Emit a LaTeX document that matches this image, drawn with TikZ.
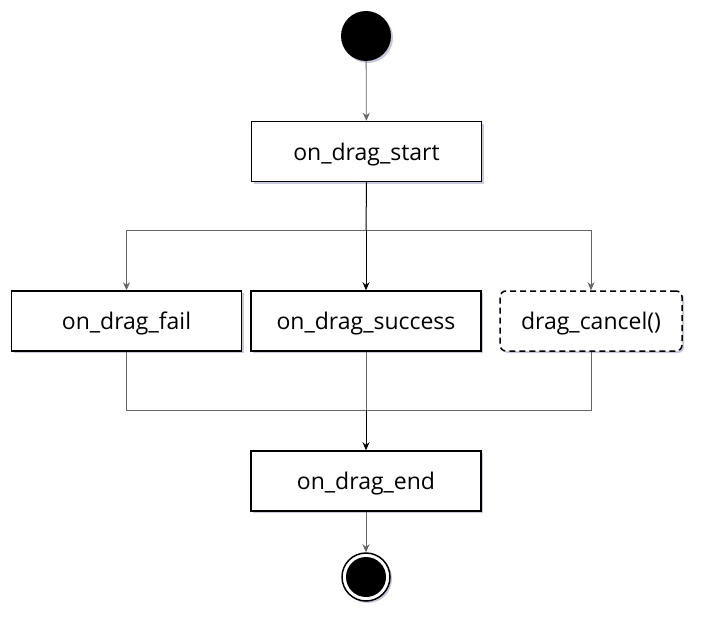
\documentclass[tikz,border=0pt]{standalone}
\usepackage{fontspec}
\setmainfont{Open Sans}
\usetikzlibrary{arrows.meta,shadows,calc}
\tikzset{
  actbox/.style={draw=black, line width=1.5pt, fill=white, minimum width=230pt, minimum height=60pt, inner sep=0pt, text depth=0pt, font=\fontsize{23}{26}\selectfont, drop shadow={shadow xshift=2pt, shadow yshift=-2pt, fill=blue!25!gray, opacity=0.35}},
  cancelbox/.style={actbox, dash pattern=on 6pt off 4pt, rounded corners=6pt, minimum width=182pt},
  flow/.style={draw=gray!80!black, line width=0.8pt},
  trunk/.style={draw=black, line width=1pt},
  tip/.style={-{Stealth[length=8pt,width=7pt]}},
}
\begin{document}
\begin{tikzpicture}[x=1pt,y=-1pt]
\useasboundingbox (0,0) rectangle (703,623);
\node[circle, fill=black, minimum size=50pt, inner sep=0pt, drop shadow={shadow xshift=2pt, shadow yshift=-2pt, fill=blue!25!gray, opacity=0.35}] (start) at (366,36) {};
\node[actbox] (s) at (366.5,151.5) {on\_drag\_start};
\node[actbox] (f) at (126.5,321) {on\_drag\_fail};
\node[actbox] (ok) at (366,321) {on\_drag\_success};
\node[cancelbox] (c) at (591,321) {drag\_cancel()};
\node[actbox] (e) at (366,481) {on\_drag\_end};
\node[circle, draw=black, line width=1.5pt, fill=white, minimum size=48pt, inner sep=0pt, drop shadow={shadow xshift=2pt, shadow yshift=-2pt, fill=blue!25!gray, opacity=0.35}] (end) at (366,577) {};
\node[circle, fill=black, minimum size=40pt, inner sep=0pt] (endin) at (end) {};
\coordinate (fork) at (366,230);
\coordinate (join) at (366,410);
\draw[flow, tip] (start) -- (s);
\draw[trunk] (s.south) -- (fork);
\draw[flow] (f.north |- fork) -- (c.north |- fork);
\draw[flow, tip] (f.north |- fork) -- (f.north);
\draw[trunk, tip] (fork) -- (ok.north);
\draw[flow, tip] (c.north |- fork) -- (c.north);
\draw[flow] (f.south) -- (f.south |- join) -- (c.south |- join) -- (c.south);
\draw[flow] (ok.south) -- (join);
\draw[trunk, tip] (join) -- (e.north);
\draw[flow, tip] (e.south) -- (end.north);
\end{tikzpicture}
\end{document}
